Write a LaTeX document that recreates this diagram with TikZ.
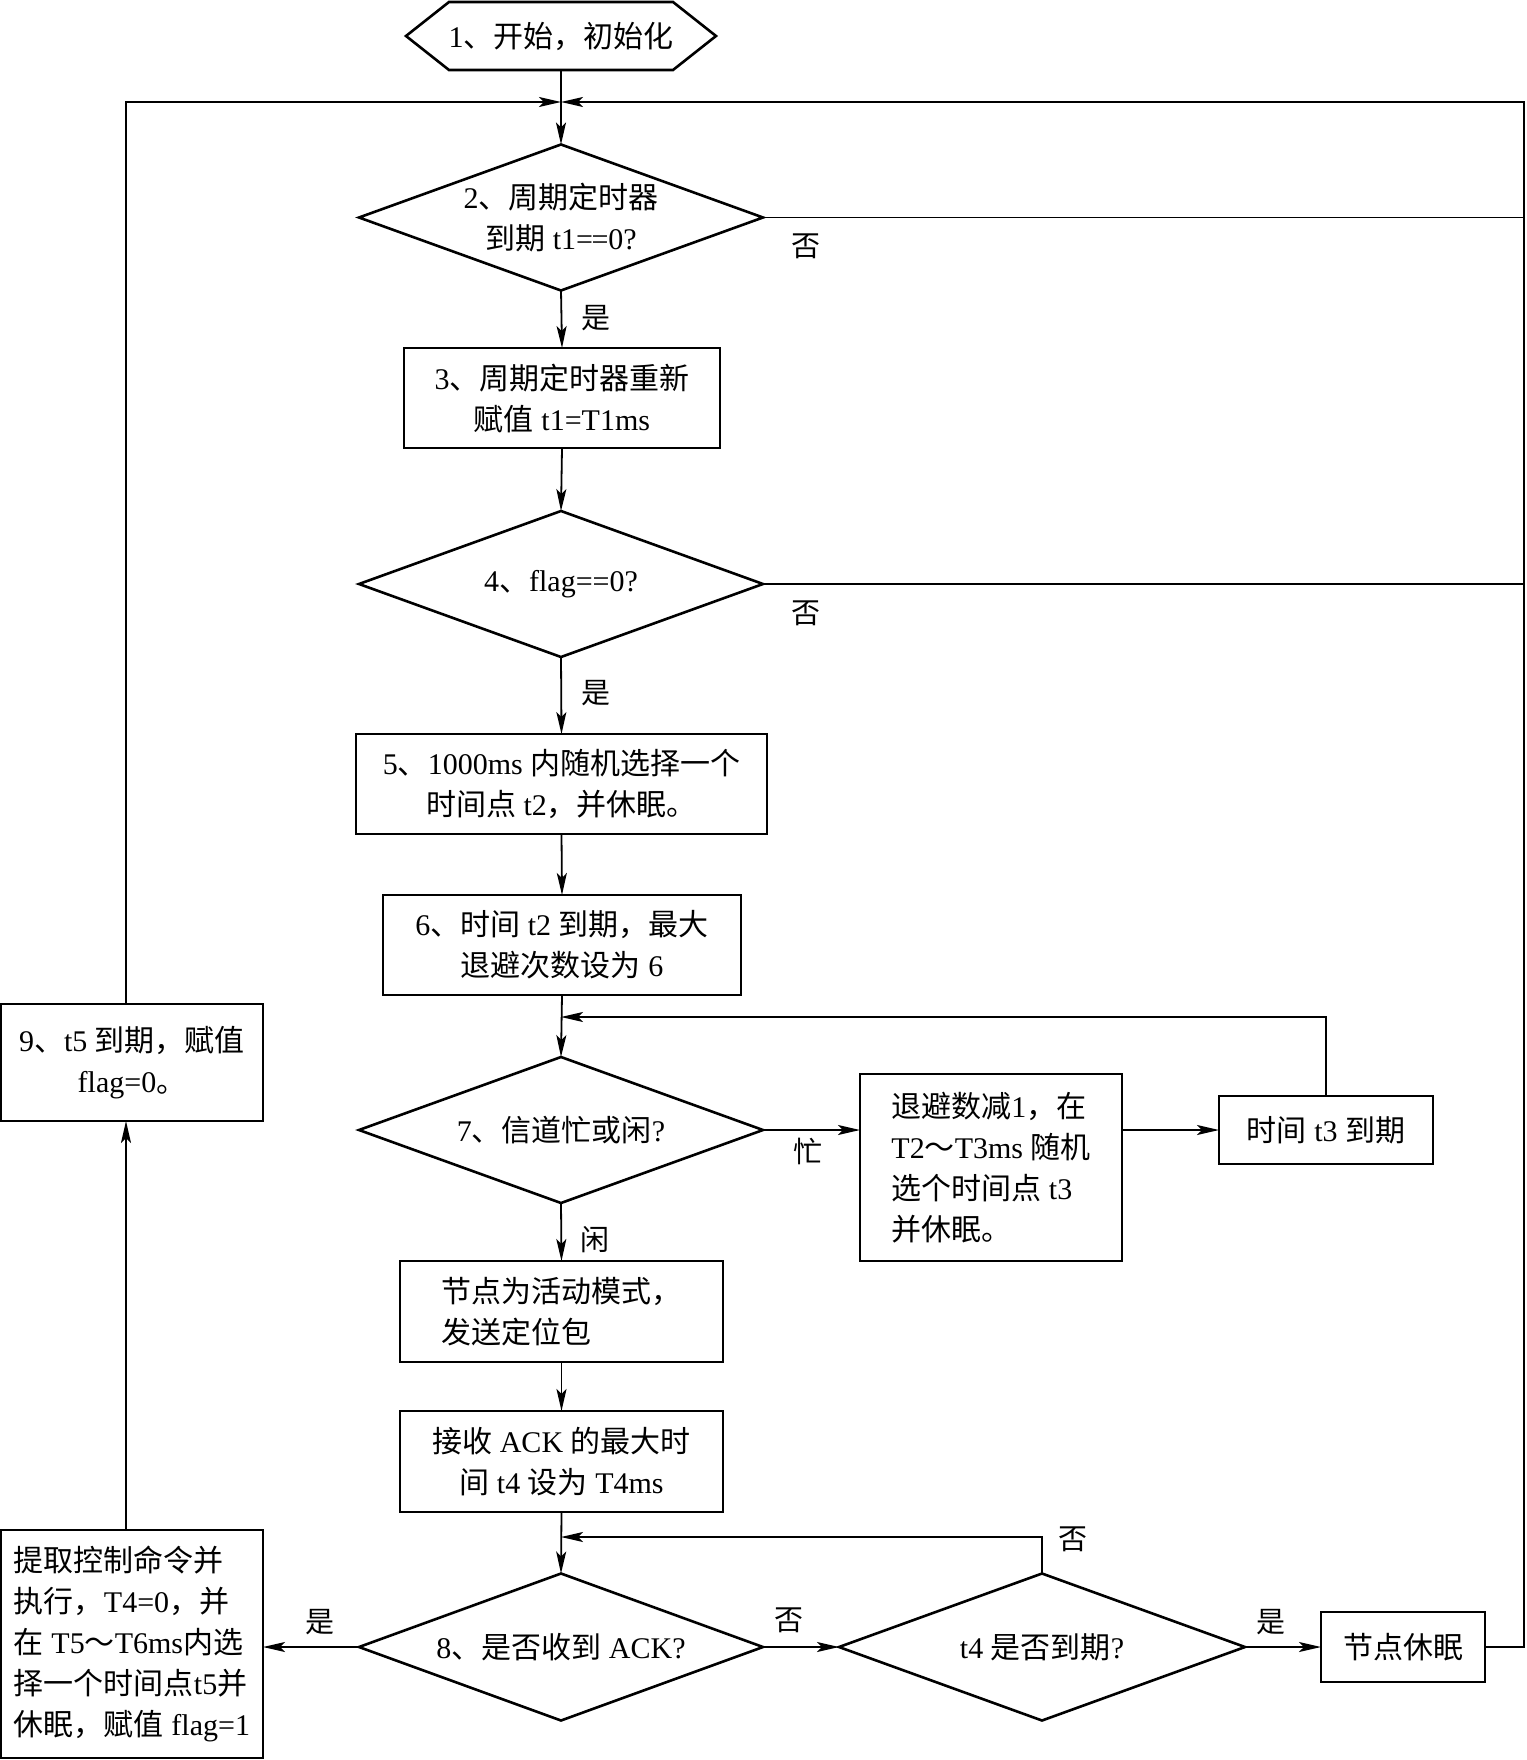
\documentclass[tikz,border=0pt]{standalone}
\usepackage{fontspec}
\setmainfont{Liberation Serif}
\newfontfamily\cjkf{Noto Sans CJK SC}
\usetikzlibrary{shapes.geometric,arrows.meta}
\newcommand\hz[1]{{\cjkf #1}}
\begin{document}
\begin{tikzpicture}[x=1pt,y=-1pt,
  every node/.style={font=\fontsize{30}{41}\selectfont, inner sep=0pt, outer sep=0pt},
  box/.style={draw, line width=2.6pt, align=center},
  boxl/.style={draw, line width=2.6pt, align=left},
  dec/.style={draw, diamond, line width=2.6pt, align=center, aspect=2.77, inner sep=-12pt},
  ln/.style={line width=1.8pt, line join=miter},
  arr/.style={ln, -{Stealth[length=22pt,width=10pt,inset=5pt]}},
  lab/.style={font=\fontsize{29}{34}\selectfont}
]
\useasboundingbox (0,0) rectangle (1526,1760);

% start hexagon
\node[minimum width=310pt, minimum height=68pt] (n1) at (561,36) {1\hz{、开始，初始化}};
\draw[line width=2.6pt, line join=miter] (n1.west) -- ([xshift=43pt]n1.north west) -- ([xshift=-43pt]n1.north east)
  -- (n1.east) -- ([xshift=-43pt]n1.south east) -- ([xshift=43pt]n1.south west) -- cycle;

% main column
\node[dec, minimum width=404pt, minimum height=146pt] (d2) at (561,217.5) {2\hz{、周期定时器}\\\hz{到期} t1=\kern-1.5pt=0?};
\node[box, minimum width=316pt, minimum height=100pt] (b3) at (562,398) {3\hz{、周期定时器重新}\\\hz{赋值} t1=T1ms};
\node[dec, minimum width=404pt, minimum height=146pt] (d4) at (561,584) {4\hz{、}flag==0?};
\node[box, minimum width=411pt, minimum height=100pt] (b5) at (561.5,784) {5\hz{、}1000ms \hz{内随机选择一个}\\\hz{时间点} t2\hz{，并休眠。}};
\node[box, minimum width=358pt, minimum height=100pt] (b6) at (562,945) {6\hz{、时间} t2 \hz{到期，最大}\\\hz{退避次数设为} 6};
\node[dec, minimum width=404pt, minimum height=146pt] (d7) at (561,1130) {7\hz{、信道忙或闲}?};
\node[boxl, minimum width=323pt, minimum height=101pt] (bact) at (561.5,1311.5) {\hz{节点为活动模式，}\\\hz{发送定位包}};
\node[box, minimum width=323pt, minimum height=101pt] (back) at (561.5,1461.5) {\hz{接收} ACK \hz{的最大时}\\\hz{间} t4 \hz{设为} T4ms};
\node[dec, minimum width=404pt, minimum height=147pt] (d8) at (561,1647) {8\hz{、是否收到} ACK?};

% right side
\node[boxl, minimum width=262pt, minimum height=187pt] (b7a) at (991,1167.5) {\hz{退避数减}1\hz{，在}\\T2\hz{～}T3ms \hz{随机}\\\hz{选个时间点} t3\\\hz{并休眠。}};
\node[box, minimum width=214pt, minimum height=68pt] (bt3) at (1326,1130) {\hz{时间} t3 \hz{到期}};
\node[dec, minimum width=406pt, minimum height=147pt] (dt4) at (1042,1647) {t4 \hz{是否到期}?};
\node[box, minimum width=164pt, minimum height=70pt] (bsleep) at (1403,1647) {\hz{节点休眠}};

% left side
\node[box, minimum width=262pt, minimum height=117pt] (b9) at (132,1062.5) {9\hz{、}t5 \hz{到期，赋值}\\flag=0\hz{。}};
\node[boxl, minimum width=262pt, minimum height=228pt] (bexec) at (132,1644) {\hz{提取控制命令并}\\\hz{执行，}T4=0\hz{，并}\\\hz{在} T5\hz{～}T6ms\hz{内选}\\\hz{择一个时间点}t5\hz{并}\\\hz{休眠，赋值} flag=1};

% labels
\node[lab] (l2) at (806,246) {\hz{否}};
\node[lab] (l2y) at (596,318) {\hz{是}};
\node[lab] (l4) at (806,613) {\hz{否}};
\node[lab] (l4y) at (596,693) {\hz{是}};
\node[lab] (l7b) at (808,1151) {\hz{忙}};
\node[lab] (l7i) at (595,1240) {\hz{闲}};
\node[lab] (lt4n) at (1073,1539) {\hz{否}};
\node[lab] (l8y) at (320,1622) {\hz{是}};
\node[lab] (l8n) at (789,1620) {\hz{否}};
\node[lab] (lt4y) at (1271,1622) {\hz{是}};

% coordinates
\coordinate (j1) at (561,102);
\coordinate (rt) at (1524,102);
\coordinate (lt) at (126,102);
\coordinate (j7) at (561,1017);
\coordinate (j8) at (561,1537);

% connectors
\draw[arr] (n1.south) -- (d2.north);
\draw[arr] (lt |- b9.north) -- (lt) -- (j1);
\draw[arr] (bsleep.east) -- (bsleep.east -| rt) -- (rt) -- (j1);
\draw[ln] (d2.east) -- (d2.east -| rt);
\draw[ln] (d4.east) -- (d4.east -| rt);
\draw[arr] (d2.south) -- (b3.north);
\draw[arr] (b3.south) -- (d4.north);
\draw[arr] (d4.south) -- (b5.north);
\draw[arr] (b5.south) -- (b6.north);
\draw[arr] (b6.south) -- (d7.north);
\draw[arr] (bt3.north) -- (bt3.north |- j7) -- (j7);
\draw[arr] (d7.east) -- (d7.east -| b7a.west);
\draw[arr] (bt3.west -| b7a.east) -- (bt3.west);
\draw[arr] (d7.south) -- (bact.north);
\draw[arr] (bact.south) -- (back.north);
\draw[arr] (back.south) -- (d8.north);
\draw[arr] (dt4.north) -- (dt4.north |- j8) -- (j8);
\draw[arr] (d8.west) -- (d8.west -| bexec.east);
\draw[arr] (d8.east) -- (dt4.west);
\draw[arr] (dt4.east) -- (bsleep.west);
\draw[arr] (lt |- bexec.north) -- (lt |- b9.south);
\end{tikzpicture}
\end{document}
